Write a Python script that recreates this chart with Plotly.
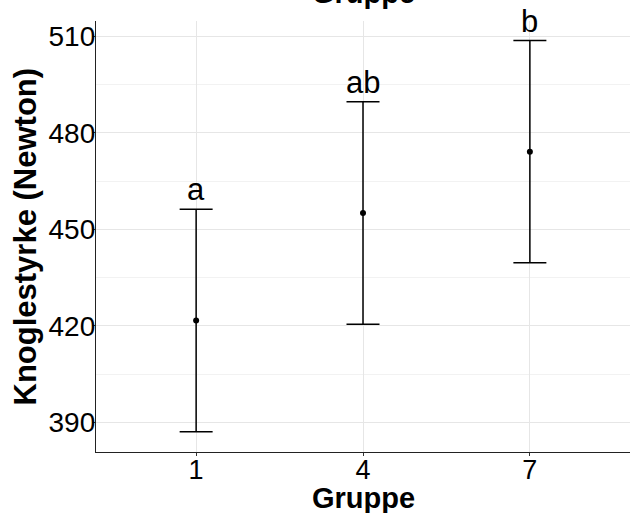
import plotly.graph_objects as go

groups = ["1", "4", "7"]
means = [421.7, 455.1, 474.15]
errors = [34.6, 34.6, 34.55]
letters = ["a", "ab", "b"]
y_ticks = [390, 420, 450, 480, 510]

FONT = "Liberation Sans, Arial, sans-serif"

fig = go.Figure()
fig.add_trace(go.Scatter(
    x=groups, y=means, mode="markers",
    marker=dict(color="black", size=6),
    error_y=dict(type="data", array=errors, visible=True,
                 color="black", thickness=1.5, width=16.5),
    showlegend=False,
))

for i, (m, e, lab) in enumerate(zip(means, errors, letters)):
    fig.add_annotation(x=i, y=m + e, text=lab, showarrow=False,
                       xanchor="center", yanchor="bottom", yshift=0,
                       font=dict(family=FONT, size=31, color="black"))

# Title (cut off at top of the image in the reference)
fig.add_annotation(x=0.5, y=1, xref="paper", yref="paper", text="<b>Gruppe</b>",
                   showarrow=False, xanchor="center", yanchor="middle", yshift=28,
                   font=dict(family=FONT, size=29, color="black"))
# Axis titles
fig.add_annotation(x=0.5, y=0, xref="paper", yref="paper", text="<b>Gruppe</b>",
                   showarrow=False, xanchor="center", yanchor="middle", yshift=-45.5,
                   font=dict(family=FONT, size=29, color="black"))
fig.add_annotation(x=0, y=0.5, xref="paper", yref="paper", text="<b>Knoglestyrke (Newton)</b>",
                   showarrow=False, xanchor="center", yanchor="middle", xshift=-71,
                   textangle=-90,
                   font=dict(family=FONT, size=31, color="black"))

fig.update_layout(
    width=632, height=513,
    margin=dict(l=96, r=2, t=21, b=61),
    paper_bgcolor="white", plot_bgcolor="white",
    font=dict(family=FONT, color="black"),
    xaxis=dict(
        type="category", range=[-0.6, 2.6], automargin=False,
        showline=True, linecolor="#222", linewidth=1.3,
        showgrid=True, gridcolor="#e6e6e6", gridwidth=1,
        ticks="outside", ticklen=3, tickcolor="#333", tickwidth=1,
        ticklabelstandoff=-10,
        tickfont=dict(family=FONT, size=27, color="black"),
        zeroline=False,
    ),
    yaxis=dict(
        range=[380.8, 514.8], automargin=False,
        tickvals=y_ticks, ticktext=[str(v) for v in y_ticks],
        showline=True, linecolor="#222", linewidth=1.3,
        showgrid=True, gridcolor="#e6e6e6", gridwidth=1,
        minor=dict(dtick=15, tick0=0, showgrid=True, gridcolor="#f2f2f2", gridwidth=1),
        ticks="outside", ticklen=3, tickcolor="#333", tickwidth=1,
        ticklabelstandoff=-9,
        tickfont=dict(family=FONT, size=28, color="black"),
        zeroline=False,
    ),
)

fig.write_html("out.html", config={"displayModeBar": False},
               post_script="document.body.style.margin='0';document.body.style.overflow='hidden';")
